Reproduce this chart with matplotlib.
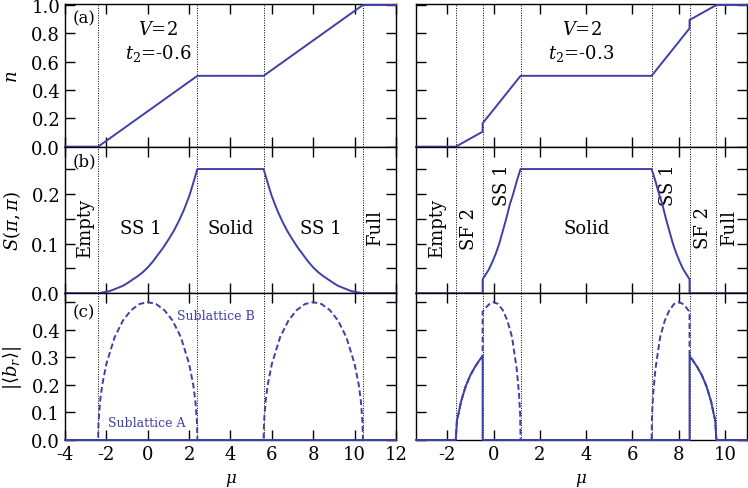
import matplotlib
matplotlib.use("Agg")
import matplotlib.pyplot as plt

plt.rcParams['font.family'] = ['DejaVu Serif']
plt.rcParams['mathtext.fontset'] = 'dejavuserif'
plt.rcParams['axes.unicode_minus'] = False

col = '#3f3fa8'

# ---- left column: V=2, t2=-0.6 ----
xlim_L = (-4, 12)
bounds_L = [-2.4, 2.4, 5.6, 10.4]

mu_nL = [-4, -2.4, 2.4, 5.6, 10.4, 12]
n_L = [0, 0, 0.5, 0.5, 1.0, 1.0]

mu_SL = [-4, -2.4, -2.0, -1.8, -1.5, -1.2, -1.0, -0.75, -0.5, -0.25, 0.0, 0.25, 0.5,
         0.75, 1.0, 1.25, 1.5, 1.75, 2.0, 2.1, 2.2, 2.3, 2.4,
         5.6, 5.7, 5.8, 5.9, 6.0, 6.25, 6.5, 6.75, 7.0, 7.25, 7.5, 7.75, 8.0,
         8.25, 8.5, 8.75, 9.0, 9.2, 9.5, 9.8, 10.0, 10.4, 12]
S_L = [0, 0, 0.003, 0.005, 0.01, 0.015, 0.02, 0.027, 0.034, 0.042, 0.052, 0.064, 0.078,
       0.092, 0.108, 0.125, 0.145, 0.168, 0.195, 0.208, 0.222, 0.236, 0.25,
       0.25, 0.236, 0.222, 0.208, 0.195, 0.168, 0.145, 0.125, 0.108, 0.092, 0.078, 0.064, 0.052,
       0.042, 0.034, 0.027, 0.02, 0.015, 0.01, 0.005, 0.003, 0, 0]

mu_bAL = [-4, 12]
bA_L = [0, 0]

mu_bBL = [-4, -2.4, -2.38, -2.3, -2.2, -2.0, -1.6, -1.2, -0.8, -0.4, 0.0,
          0.4, 0.8, 1.2, 1.6, 2.0, 2.2, 2.3, 2.38, 2.4,
          5.6, 5.62, 5.7, 5.8, 6.0, 6.4, 6.8, 7.2, 7.6, 8.0,
          8.4, 8.8, 9.2, 9.6, 10.0, 10.2, 10.3, 10.38, 10.4, 12]
bB_L = [0, 0, 0.065, 0.143, 0.2, 0.276, 0.373, 0.433, 0.471, 0.493, 0.5,
        0.493, 0.471, 0.433, 0.373, 0.276, 0.2, 0.143, 0.065, 0,
        0, 0.065, 0.143, 0.2, 0.276, 0.373, 0.433, 0.471, 0.493, 0.5,
        0.493, 0.471, 0.433, 0.373, 0.276, 0.2, 0.143, 0.065, 0, 0]

# ---- right column: V=2, t2=-0.3 ----
xlim_R = (-3.35, 10.95)
bounds_R = [-1.63, -0.47, 1.17, 6.83, 8.47, 9.63]

mu_nR = [-3.35, -1.63, -0.47, -0.47, 1.17, 6.83, 8.47, 8.47, 9.63, 10.95]
n_R = [0, 0, 0.106, 0.165, 0.5, 0.5, 0.835, 0.894, 1.0, 1.0]

mu_SR = [-3.35, -0.47, -0.47, -0.35, -0.2, -0.05, 0.1, 0.25, 0.4, 0.55, 0.7, 0.85,
         1.0, 1.1, 1.17,
         6.83, 6.9, 7.0, 7.15, 7.3, 7.45, 7.6, 7.75, 7.9, 8.05, 8.2, 8.35, 8.47, 8.47, 10.95]
S_R = [0, 0, 0.028, 0.037, 0.048, 0.063, 0.08, 0.1, 0.125, 0.15, 0.178, 0.2,
       0.225, 0.24, 0.25,
       0.25, 0.24, 0.225, 0.2, 0.178, 0.15, 0.125, 0.1, 0.08, 0.063, 0.048, 0.037, 0.028, 0, 0]

mu_bAR = [-3.35, -1.63, -1.58, -1.5, -1.4, -1.2, -1.0, -0.8, -0.6, -0.47, -0.47,
          8.47, 8.47, 8.6, 8.8, 9.0, 9.2, 9.4, 9.5, 9.58, 9.63, 10.95]
bA_R = [0, 0, 0.07, 0.1, 0.14, 0.195, 0.235, 0.265, 0.29, 0.305, 0,
        0, 0.305, 0.29, 0.265, 0.235, 0.195, 0.14, 0.1, 0.07, 0, 0]

mu_bBR = [-3.35, -1.63, -1.58, -1.5, -1.4, -1.2, -1.0, -0.8, -0.6, -0.47, -0.47,
          -0.3, -0.15, 0.0, 0.2, 0.4, 0.6, 0.8, 1.0, 1.1, 1.15, 1.17,
          6.83, 6.85, 6.9, 7.0, 7.2, 7.4, 7.6, 7.8, 8.0, 8.15, 8.3, 8.47,
          8.47, 8.6, 8.8, 9.0, 9.2, 9.4, 9.5, 9.58, 9.63, 10.95]
bB_R = [0, 0, 0.07, 0.1, 0.14, 0.195, 0.235, 0.265, 0.29, 0.305, 0.465,
        0.483, 0.495, 0.5, 0.493, 0.471, 0.433, 0.373, 0.26, 0.17, 0.095, 0,
        0, 0.095, 0.17, 0.26, 0.373, 0.433, 0.471, 0.493, 0.5, 0.495, 0.483, 0.465,
        0.305, 0.29, 0.265, 0.235, 0.195, 0.14, 0.1, 0.07, 0, 0]

# phase labels (text, mu, S, rotation)
phases_L = [('Empty', -3.03, 0.133, 90), ('SS 1', -0.35, 0.131, 0),
            ('Solid', 4.0, 0.131, 0), ('SS 1', 8.35, 0.131, 0), ('Full', 11.0, 0.133, 90)]
phases_R = [('Empty', -2.42, 0.133, 90), ('SF 2', -1.07, 0.131, 90), ('SS 1', 0.36, 0.22, 90),
            ('Solid', 4.03, 0.131, 0), ('SS 1', 7.55, 0.22, 90), ('SF 2', 9.07, 0.133, 90),
            ('Full', 10.17, 0.133, 90)]

fig = plt.figure(figsize=(7.48, 4.89), dpi=100)

lefts = [0.0869, 0.5561]
w = 0.4425
rows = [(0.698, 0.2918), (0.3982, 0.2998), (0.0982, 0.3)]

axes = [[fig.add_axes([l, b, w, h]) for (b, h) in rows] for l in lefts]

cols = [
    dict(xlim=xlim_L, bounds=bounds_L, mu_n=mu_nL, n=n_L, mu_S=mu_SL, S=S_L,
         mu_A=mu_bAL, A=bA_L, mu_B=mu_bBL, B=bB_L, phases=phases_L,
         xt=range(-4, 13, 2), title=('$V$=2', '$t_2$=-0.6')),
    dict(xlim=xlim_R, bounds=bounds_R, mu_n=mu_nR, n=n_R, mu_S=mu_SR, S=S_R,
         mu_A=mu_bAR, A=bA_R, mu_B=mu_bBR, B=bB_R, phases=phases_R,
         xt=range(-2, 11, 2), title=('$V$=2', '$t_2$=-0.3')),
]

for j, c in enumerate(cols):
    axa, axb, axc = axes[j]
    axa.plot(c['mu_n'], c['n'], color=col, lw=1.4, clip_on=False, zorder=5)
    axb.plot(c['mu_S'], c['S'], color=col, lw=1.4, clip_on=False, zorder=5)
    axc.plot(c['mu_B'], c['B'], color=col, lw=1.4, dashes=(3, 1.6), clip_on=False, zorder=5)
    axc.plot(c['mu_A'], c['A'], color=col, lw=1.4, clip_on=False, zorder=6)

    axa.set_ylim(0, 1.007)
    axa.set_yticks([0, 0.2, 0.4, 0.6, 0.8, 1.0])
    axb.set_ylim(0, 0.295)
    axb.set_yticks([0, 0.05, 0.1, 0.15, 0.2, 0.25])
    axc.set_ylim(0, 0.532)
    axc.set_yticks([0, 0.1, 0.2, 0.3, 0.4, 0.5])

    for ax in (axa, axb, axc):
        ax.set_xlim(*c['xlim'])
        ax.set_xticks(list(c['xt']))
        for xb in c['bounds']:
            ax.axvline(xb, color='k', lw=0.7, ls=(0, (1, 1.5)), zorder=1)
        ax.tick_params(direction='in', length=7, width=1, top=True, right=True,
                       labelsize=13)
        for s in ax.spines.values():
            s.set_linewidth(1)
        if ax is not axc:
            ax.tick_params(labelbottom=False)
        if j == 1:
            ax.tick_params(labelleft=False)

    if j == 0:
        axb.set_yticklabels(['0.0', '', '0.1', '', '0.2', ''])
        axc.set_yticklabels(['0.0', '0.1', '0.2', '0.3', '0.4', ''])
        axa.set_ylabel('$n$', fontsize=13)
        axb.set_ylabel(r'$S(\pi,\pi)$', fontsize=13)
        axc.set_ylabel(r'$|\langle b_r\rangle|$', fontsize=13)
        for ax in (axa, axb, axc):
            ax.yaxis.label.set_va('center')
            ax.yaxis.set_label_coords(-0.16, 0.5)
        axa.text(0.023, 0.90, '(a)', transform=axa.transAxes, fontsize=12, va='center')
        axb.text(0.023, 0.90, '(b)', transform=axb.transAxes, fontsize=12, va='center')
        axc.text(0.023, 0.87, '(c)', transform=axc.transAxes, fontsize=12, va='center')
        axc.text(3.3, 0.45, 'Sublattice B', color=col, fontsize=9, ha='center', va='center')
        axc.text(-0.07, 0.064, 'Sublattice A', color=col, fontsize=9, ha='center', va='center')
        tx = 0.281
    else:
        tx = 0.50

    axa.text(tx, 0.828, c['title'][0], transform=axa.transAxes, fontsize=13,
             ha='center', va='center')
    axa.text(tx, 0.657, c['title'][1], transform=axa.transAxes, fontsize=13,
             ha='center', va='center')

    for (t, xm, ys, rot) in c['phases']:
        axb.text(xm, ys, t, fontsize=13, rotation=rot, ha='center', va='center')

    axc.set_xticklabels([str(v) for v in c['xt']])
    axc.set_xlabel(r'$\mu$', fontsize=12, labelpad=6)

fig.savefig('out.png', dpi=100)
